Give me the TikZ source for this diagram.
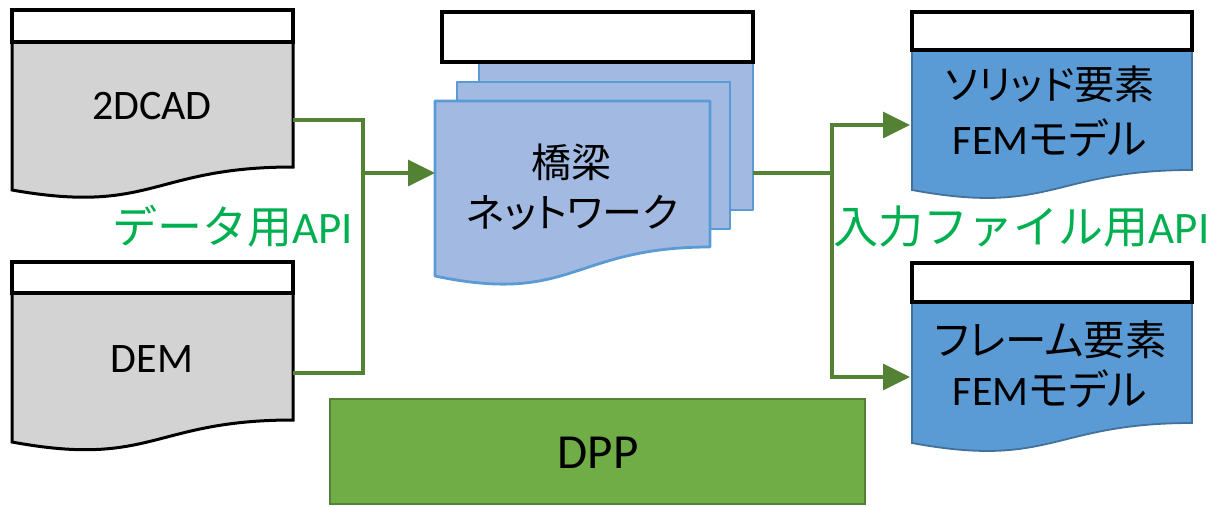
\documentclass[tikz,border=0pt]{standalone}
\usepackage{fontspec}
\setmainfont{Carlito}
\newfontfamily\jp{Noto Sans CJK JP}
\newfontfamily\jpp[RawFeature=+palt]{Noto Sans CJK JP}
\usetikzlibrary{arrows.meta}
\definecolor{gfill}{RGB}{211,211,211}
\definecolor{lbfill}{RGB}{162,185,226}
\definecolor{lbline}{RGB}{91,155,213}
\definecolor{bfill}{RGB}{91,155,213}
\definecolor{bline}{RGB}{65,113,156}
\definecolor{conn}{RGB}{84,130,53}
\definecolor{dppfill}{RGB}{112,173,71}
\definecolor{dppline}{RGB}{84,130,53}
\definecolor{apigreen}{RGB}{0,176,80}
% #1 style, #2 x1, #3 ytop, #4 x2, #5 y right bottom, #6 y left bottom, #7 control y
\newcommand\docshape[7]{\draw[#1] (#2,#3) -- (#4,#3) -- (#4,#5) .. controls ({(#2+#4)/2},#5) and ({(#2+#4)/2},#7) .. (#2,#6) -- cycle;}
\tikzset{
  graydoc/.style={fill=gfill, draw=black, line width=3pt, line join=miter},
  bluedoc/.style={fill=bfill, draw=bline, line width=1.8pt},
  netdoc/.style={fill=lbfill, draw=lbline, line width=2.8pt, line join=round},
  header/.style={fill=white, draw=black, line width=3.2pt},
  txt/.style={inner sep=0pt, font=\fontsize{42}{50}\selectfont},
  jtxt/.style={inner sep=0pt, font=\fontsize{40}{48}\selectfont},
  femtxt/.style={inner sep=0pt, font=\fontsize{42}{50}\selectfont},
  api/.style={inner sep=0pt, text=apigreen, font=\fontsize{45}{54}\selectfont},
  link/.style={draw=conn, line width=3.5pt},
  arrowlink/.style={link, -{Triangle[length=27pt,width=26pt]}},
}
\begin{document}
\begin{tikzpicture}[x=1pt,y=-1pt]
\useasboundingbox (0,0) rectangle (1214,506);

% left documents
\docshape{graydoc}{12}{42}{293}{167}{190}{215}
\draw[header] (12,10) rectangle (293,42);
\docshape{graydoc}{12}{293}{293}{420}{442}{468}
\draw[header] (12,262) rectangle (293,293);

% network (stack)
\draw[netdoc] (479,62) rectangle (753,210);
\draw[netdoc] (457,82) rectangle (730,229);
\docshape{netdoc}{435}{101}{710}{247}{276}{305}
\draw[header] (442,12) rectangle (753,62);

% right documents
\docshape{bluedoc}{912}{50}{1192}{170}{190}{216}
\draw[header] (912,12) rectangle (1192,50);
\docshape{bluedoc}{912}{302}{1192}{423}{443}{469}
\draw[header] (912,263) rectangle (1192,302);

% DPP
\node[fill=dppfill, draw=dppline, line width=2.2pt, minimum width=535pt, minimum height=105pt, inner sep=0pt] (dpp) at (597.5,451.5) {};
\node[inner sep=0pt, font=\fontsize{49}{56}\selectfont] (dpptxt) at (598,453) {DPP};

% texts
\node[txt] (cad) at (152,106) {2DCAD};
\node[txt] (dem) at (152,359.5) {DEM};
\node[jtxt] (net1) at (571,162.5) {\jpp 橋梁};
\node[jtxt] (net2) at (572.5,213) {\jpp ネットワーク};
\node[jtxt] (sol1) at (1050,84.5) {\jpp ソリッド要素};
\node[femtxt] (sol2) at (1050,137.5) {FEM{\jpp モデル}};
\node[jtxt, font=\fontsize{41.5}{48}\selectfont] (frm1) at (1050.5,339.5) {\jpp フレーム要素};
\node[femtxt] (frm2) at (1050,389) {FEM{\jpp モデル}};
\node[api] (apil) at (232.5,226) {{\jp データ用}API};
\node[api] (apir) at (1021.5,227) {{\jp 入力ファイル用}API};

% connection points
\coordinate (cadR) at (293,120);
\coordinate (demR) at (293,373);
\coordinate (jL) at (363,173);
\coordinate (netL) at (435,173);
\coordinate (netR) at (753,173);
\coordinate (jR) at (832,173);
\coordinate (solL) at (910,125);
\coordinate (frmL) at (910,377);

% connectors
\draw[link, line join=miter] (cadR) -| (jL) |- (demR);
\draw[arrowlink] (jL) -- (netL);
\draw[link] (netR) -- (jR);
\draw[arrowlink] (jR) |- (solL);
\draw[arrowlink] (jR) |- (frmL);
\end{tikzpicture}
\end{document}
